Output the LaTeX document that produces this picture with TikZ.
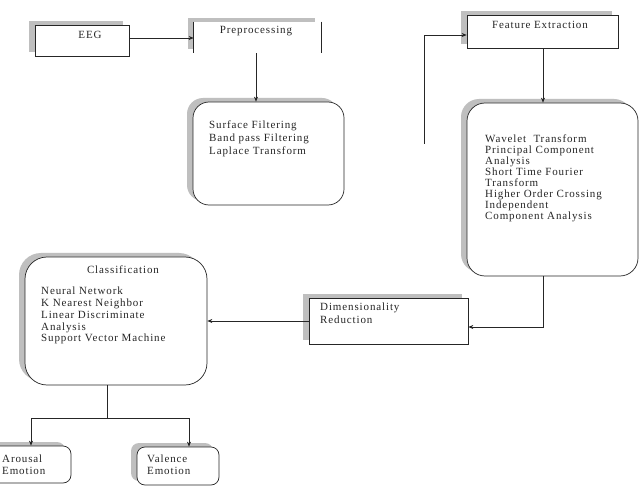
\documentclass[tikz,border=0pt]{standalone}
\usepackage{fontspec}
\setmainfont{Liberation Serif}[LetterSpace=8]
\usetikzlibrary{arrows.meta,shadows}
\begin{document}
\begin{tikzpicture}[x=1pt,y=-1pt,
  sh/.style={general shadow={fill=black!25, shadow xshift=-6pt, shadow yshift=4pt}},
  boxbase/.style={fill=white, line width=0.7pt, inner sep=0pt, sh},
  sqbox/.style={boxbase, draw=black!85},
  rbox/.style={boxbase, draw=black!85, rounded corners=#1},
  txt/.style={inner sep=0pt, font=\fontsize{11}{11}\selectfont, text=black!85},
  lst/.style={txt, align=left, anchor=north west, font=\fontsize{11}{#1}\selectfont},
  arr/.style={line width=0.6pt, draw=black!85, -{Stealth[length=5pt,width=4pt]}},
  ln/.style={line width=0.6pt, draw=black!85}
]
\useasboundingbox (0,0) rectangle (640,497);
\fill[white] (0,0) rectangle (640,497);

% boxes
\node[sqbox, minimum width=94pt, minimum height=31pt] (eeg) at (82,40.5) {};
\node[boxbase, draw=none, minimum width=127pt, minimum height=31pt] (pre) at (257.5,37.5) {};
\draw[ln] (pre.north west) -- (pre.south west) (pre.north east) -- (pre.south east);
\node[rbox=16pt, minimum width=151pt, minimum height=103pt] (filt) at (268.5,153.5) {};
\node[sqbox, minimum width=151pt, minimum height=33pt] (fe) at (542.5,31.5) {};
\node[rbox=18pt, minimum width=171pt, minimum height=173pt] (big) at (552.5,189.5) {};
\node[sqbox, minimum width=159pt, minimum height=46pt] (dim) at (388.5,321) {};
\node[rbox=22pt, minimum width=182pt, minimum height=128pt] (cls) at (116,321) {};
\node[rbox=8pt, minimum width=81pt, minimum height=37pt] (aro) at (30.5,464.5) {};
\node[rbox=8pt, minimum width=82pt, minimum height=38pt] (val) at (178,466) {};

% texts
\node[txt] (teeg) at (90,35) {EEG};
\node[txt] (tpre) at (256,31) {Preprocessing};
\node[lst=13] (tfilt) at (209,121) {Surface Filtering\\Band pass Filtering\\Laplace Transform};
\node[txt] (tfe) at (540,25) {Feature Extraction};
\node[lst=11] (tbig) at (485,135) {Wavelet~~Transform\\Principal Component\\Analysis\\Short Time Fourier\\Transform\\Higher Order Crossing\\Independent\\Component Analysis};
\node[lst=13] (tdim) at (320,303) {Dimensionality\\Reduction};
\node[txt] (tcls) at (123,270) {Classification};
\node[lst=11.75] (tclsl) at (41,287) {Neural Network\\K Nearest Neighbor\\Linear Discriminate\\Analysis\\Support Vector Machine};
\node[lst=12] (taro) at (2,455) {Arousal\\Emotion};
\node[lst=12] (tval) at (147,455) {Valence\\Emotion};

% connectors
\draw[arr] (eeg.east |- 0,38) -- (pre.west |- 0,38);
\draw[arr] (pre.south -| 256,0) -- (filt.north -| 256,0);
\coordinate (fb) at (424,144);
\draw[arr] (fb) |- (fe.west |- 0,35);
\draw[arr] (fe.south -| 543,0) -- (big.north -| 543,0);
\draw[arr] (big.south -| 543,0) |- (dim.east |- 0,327);
\draw[arr] (dim.west) -- (cls.east);
\coordinate (split) at (107,418);
\draw[ln] (cls.south -| split) -- (split);
\draw[arr] (split) -| (aro.north -| 31,0);
\draw[arr] (split) -| (val.north -| 189,0);
\end{tikzpicture}
\end{document}
